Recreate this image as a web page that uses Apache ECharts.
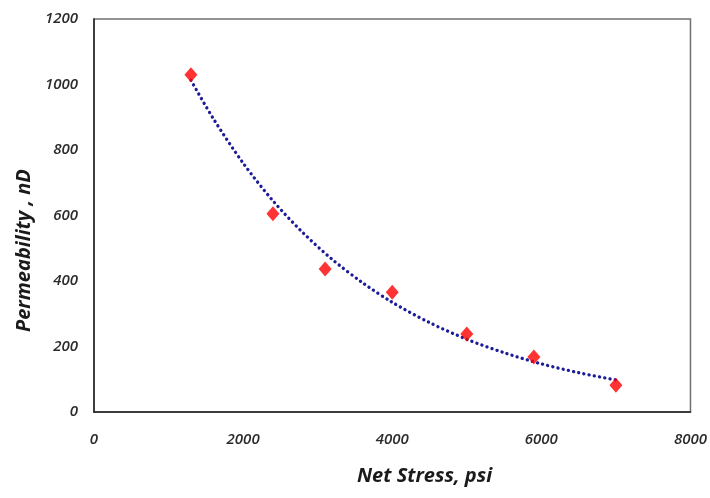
<!DOCTYPE html>
<html><head><meta charset="utf-8">
<script src="https://cdn.jsdelivr.net/npm/echarts@6/dist/echarts.min.js"></script>
<style>html,body{margin:0;padding:0;background:#fff}#c{width:710px;height:498px}</style>
</head><body><div id="c"></div>
<script>
const stress = [1300, 2400, 3100, 4000, 5000, 5900, 7000];
const permeability = [1030, 605, 437, 366, 238, 168, 82];
const trendStress = [1300, 1600, 2000, 2400, 2800, 3200, 3600, 4000, 4500, 5000, 5500, 6000, 6500, 7000];
const trendPerm = [1013, 896, 760, 645, 548, 465, 395, 335, 273, 222, 181, 147, 120, 98];
const xTicks = [0, 2000, 4000, 6000, 8000];
const yTicks = [0, 200, 400, 600, 800, 1000, 1200];

const chart = echarts.init(document.getElementById('c'), null, {renderer: 'canvas'});
const labelFont = {fontFamily: 'Open Sans', fontStyle: 'italic', fontWeight: 600, fontSize: 15, color: '#2b2b2b', formatter: v => String(v)};
chart.setOption({
  animation: false,
  backgroundColor: '#fff',
  grid: {left: 94, top: 19, right: 18, bottom: 86, show: true, borderColor: '#707070', borderWidth: 1.5, backgroundColor: 'transparent'},
  xAxis: {
    type: 'value', min: xTicks[0], max: xTicks[xTicks.length - 1], interval: 2000,
    axisLine: {show: true, onZero: false, lineStyle: {color: '#222', width: 1.5}},
    axisTick: {show: false}, splitLine: {show: false},
    axisLabel: Object.assign({margin: 20}, labelFont)
  },
  yAxis: {
    type: 'value', min: yTicks[0], max: yTicks[yTicks.length - 1], interval: 200,
    axisLine: {show: true, onZero: false, lineStyle: {color: '#222', width: 1.5}},
    axisTick: {show: false}, splitLine: {show: false},
    axisLabel: Object.assign({margin: 16}, labelFont)
  },
  graphic: [
    {type: 'text', left: 357, top: 466, style: {text: 'Net Stress, psi', font: 'italic 700 20px "Open Sans"', fill: '#1a1a1a'}},
    {type: 'text', x: 14, y: 332, rotation: Math.PI / 2, style: {text: 'Permeability , nD', font: 'italic 700 20px "Open Sans"', fill: '#1a1a1a'}}
  ],
  series: [
    {
      type: 'line', data: trendStress.map((x, i) => [x, trendPerm[i]]), smooth: 0.3, showSymbol: false, symbol: 'none',
      lineStyle: {color: '#1c1c98', width: 3.3, type: [0.1, 5.2], cap: 'round'}, z: 2
    },
    {
      type: 'scatter', data: stress.map((x, i) => [x, permeability[i]]), symbol: 'diamond', symbolSize: [13, 15],
      itemStyle: {color: '#ff0000'}, z: 3
    }
  ]
});
</script></body></html>
